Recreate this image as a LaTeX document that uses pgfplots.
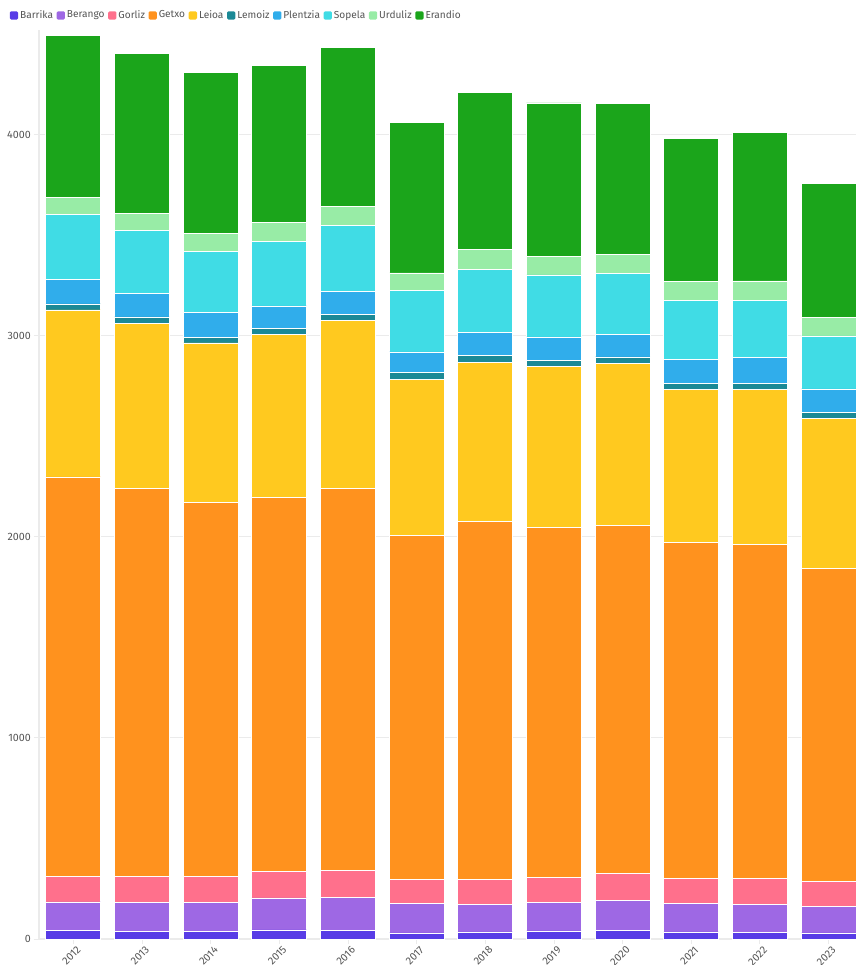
\documentclass[border=0pt]{standalone}
\usepackage{fontspec}
\setmainfont{Fira Sans}
\usepackage{pgfplots}
\usepackage{pgfplotstable}
\pgfplotsset{compat=1.18}
\definecolor{cBarrika}{RGB}{88,60,230}
\definecolor{cBerango}{RGB}{158,104,228}
\definecolor{cGorliz}{RGB}{255,112,140}
\definecolor{cGetxo}{RGB}{255,146,30}
\definecolor{cLeioa}{RGB}{255,201,31}
\definecolor{cLemoiz}{RGB}{27,137,150}
\definecolor{cPlentzia}{RGB}{48,173,235}
\definecolor{cSopela}{RGB}{64,220,229}
\definecolor{cUrduliz}{RGB}{152,236,166}
\definecolor{cErandio}{RGB}{27,165,27}
\definecolor{txt}{RGB}{85,85,85}
\definecolor{gridc}{RGB}{235,235,235}
\pgfplotstableread{
x Barrika Berango Gorliz Getxo Leioa Lemoiz Plentzia Sopela Urduliz Erandio
0 41 143 129 1985 830 30 122 323 85 803
1 36 146 131 1929 820 31 116 315 84 794
2 38 144 131 1859 792 28 122 305 91 799
3 45 159 132 1858 814 27 113 321 96 780
4 41 164 134 1903 834 28 115 328 96 790
5 30 147 118 1713 775 33 103 308 85 749
6 35 135 128 1778 793 32 114 316 97 780
7 40 140 128 1738 802 28 118 308 94 761
8 41 151 136 1727 808 31 113 301 95 750
9 35 140 125 1672 762 29 121 292 92 711
10 33 139 128 1660 774 29 128 285 96 739
11 30 132 123 1559 744 29 118 264 90 670
}\data
\begin{document}
\begin{tikzpicture}[x=1pt,y=1pt]
\useasboundingbox (0,0) rectangle (642,723.75);
\begin{axis}[
  at={(29.25pt,19.5pt)}, anchor=south west,
  scale only axis, width=612.75pt, height=681.75pt,
  ybar stacked, bar width=41.25pt,
  xmin=-0.5, xmax=11.4, ymin=0, ymax=4520,
  xtick={0,...,11},
  xticklabels={2012,2013,2014,2015,2016,2017,2018,2019,2020,2021,2022,2023},
  ytick={0,1000,2000,3000,4000},
  /pgf/number format/assume math mode=true,
  yticklabel={\pgfmathprintnumber[fixed,1000 sep={}]{\tick}},
  ticklabel style={font=\fontsize{8}{9}\selectfont, text=txt},
  xticklabel style={rotate=45, anchor=north east, inner sep=1pt, yshift=-1pt, xshift=2pt},
  yticklabel style={inner sep=1pt, xshift=-1pt},
  axis x line*=bottom, axis y line*=left,
  axis line style={draw=gridc, line width=0.8pt, -},
  tick style={draw=gridc, line width=0.6pt},
  major tick length=4pt,
  tick align=outside,
  ymajorgrids, grid style={draw=gridc, line width=0.6pt},
  every axis plot/.append style={draw=white, line width=0.5pt},
  legend style={at={(-0.036,1.016)}, anchor=west, draw=none, fill=none,
    font=\fontsize{7.6}{9}\selectfont, text=txt, legend columns=10,
    nodes={inner sep=1.5pt},
    /tikz/every even column/.append style={column sep=1.2pt},
    inner sep=0pt},
  legend image code/.code={\fill[#1,draw=none,rounded corners=1pt] (0pt,-3.1pt) rectangle (6.2pt,3.1pt);},
  legend cell align=left,
]
\addplot[fill=cBarrika] table[x=x,y=Barrika]{\data};
\addplot[fill=cBerango] table[x=x,y=Berango]{\data};
\addplot[fill=cGorliz] table[x=x,y=Gorliz]{\data};
\addplot[fill=cGetxo] table[x=x,y=Getxo]{\data};
\addplot[fill=cLeioa] table[x=x,y=Leioa]{\data};
\addplot[fill=cLemoiz] table[x=x,y=Lemoiz]{\data};
\addplot[fill=cPlentzia] table[x=x,y=Plentzia]{\data};
\addplot[fill=cSopela] table[x=x,y=Sopela]{\data};
\addplot[fill=cUrduliz] table[x=x,y=Urduliz]{\data};
\addplot[fill=cErandio] table[x=x,y=Erandio]{\data};
\legend{Barrika,Berango,Gorliz,Getxo,Leioa,Lemoiz,Plentzia,Sopela,Urduliz,Erandio}
\end{axis}
\end{tikzpicture}
\end{document}
